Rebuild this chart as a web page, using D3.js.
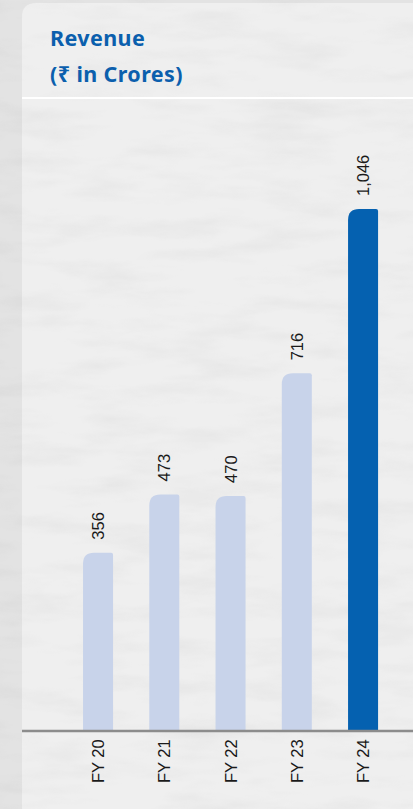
<!DOCTYPE html>
<html>
<head>
<meta charset="utf-8">
<script src="https://cdn.jsdelivr.net/npm/d3@7"></script>
<style>
  html, body { margin: 0; padding: 0; background: #e6e6e6; }
  svg { display: block; }
</style>
</head>
<body>
<svg id="chart" width="413" height="809"></svg>
<script>
const categories = ["FY 20", "FY 21", "FY 22", "FY 23", "FY 24"];
const values = [356, 473, 470, 716, 1046];
const valueLabels = ["356", "473", "470", "716", "1,046"];
const highlight = [false, false, false, false, true];
const titleLines = ["Revenue", "(₹ in Crores)"];

const W = 413, H = 809;
const svg = d3.select("#chart");
const defs = svg.append("defs");

// subtle marble texture
const f = defs.append("filter").attr("id", "marble").attr("x", 0).attr("y", 0).attr("width", "100%").attr("height", "100%");
f.append("feTurbulence").attr("type", "fractalNoise").attr("baseFrequency", "0.012 0.05").attr("numOctaves", 4).attr("seed", 3).attr("result", "n");
f.append("feColorMatrix").attr("in", "n").attr("type", "matrix")
  .attr("values", "0 0 0 0 0.55  0 0 0 0 0.55  0 0 0 0 0.55  0 0 0 -1.6 0.9").attr("result", "c");
f.append("feComposite").attr("in", "c").attr("in2", "SourceGraphic").attr("operator", "in");

// outer background
svg.append("rect").attr("width", W).attr("height", H).attr("fill", "#e3e3e3");
svg.append("rect").attr("width", W).attr("height", H).attr("fill", "#e3e3e3").attr("filter", "url(#marble)").attr("opacity", 0.35);

// panel
const panelX = 22, panelY = 3, r = 14;
const panelPath = `M${panelX},${H} L${panelX},${panelY + r} Q${panelX},${panelY} ${panelX + r},${panelY} L${W},${panelY} L${W},${H} Z`;
svg.append("path").attr("d", panelPath).attr("fill", "#efefef");
svg.append("path").attr("d", panelPath).attr("fill", "#efefef").attr("filter", "url(#marble)").attr("opacity", 0.25);

// title
const title = svg.append("g").attr("font-family", "'Noto Sans', sans-serif").attr("font-weight", 700)
  .attr("font-size", 21.5).attr("letter-spacing", 0.4).attr("fill", "#0b5fad");
title.selectAll("text").data(titleLines).join("text")
  .attr("x", 50).attr("y", (d, i) => 46 + i * 36).text(d => d);

// white separator line
svg.append("line").attr("x1", panelX).attr("x2", W).attr("y1", 98).attr("y2", 98)
  .attr("stroke", "#ffffff").attr("stroke-width", 2);

// scales
const baseY = 730;
const x = d3.scaleBand().domain(categories).range([49.9, 411.2]).paddingInner(0.547).paddingOuter(0.5);
const y = d3.scaleLinear().domain([0, 1046]).range([baseY, 209]);

const rl = 11, rr = 2;
function barPath(x0, w, yTop, yBot) {
  return `M${x0},${yBot} L${x0},${yTop + rl} Q${x0},${yTop} ${x0 + rl},${yTop} L${x0 + w - rr},${yTop} Q${x0 + w},${yTop} ${x0 + w},${yTop + rr} L${x0 + w},${yBot} Z`;
}

const data = categories.map((c, i) => ({ c, v: values[i], lab: valueLabels[i], hi: highlight[i] }));

svg.append("g").selectAll("path").data(data).join("path")
  .attr("d", d => barPath(x(d.c), x.bandwidth(), y(d.v), baseY))
  .attr("fill", d => d.hi ? "#0561b0" : "#c8d3ea");

// value labels
svg.append("g").selectAll("text").data(data).join("text")
  .attr("transform", d => `translate(${x(d.c) + x.bandwidth() / 2 + 6},${y(d.v) - 13}) rotate(-90)`)
  .attr("font-family", "'Liberation Sans', Arial, sans-serif").attr("font-size", 16.5)
  .attr("fill", "#1a1a1a").attr("text-anchor", "start")
  .text(d => d.lab);

// baseline
svg.append("line").attr("x1", panelX).attr("x2", W).attr("y1", baseY + 1).attr("y2", baseY + 1)
  .attr("stroke", "#8c8c8c").attr("stroke-width", 2.5);

// x axis labels
const xAxis = d3.axisBottom(x).tickSize(0).tickPadding(0);
const gx = svg.append("g").attr("transform", `translate(0,${baseY})`).call(xAxis);
gx.select(".domain").remove();
gx.selectAll("text")
  .attr("font-family", "'Liberation Sans', Arial, sans-serif").attr("font-size", 16.5).attr("fill", "#1a1a1a")
  .attr("text-anchor", "start").attr("dy", null)
  .attr("transform", "translate(6,53) rotate(-90)")
  .attr("y", 0).attr("x", 0);
</script>
</body>
</html>
